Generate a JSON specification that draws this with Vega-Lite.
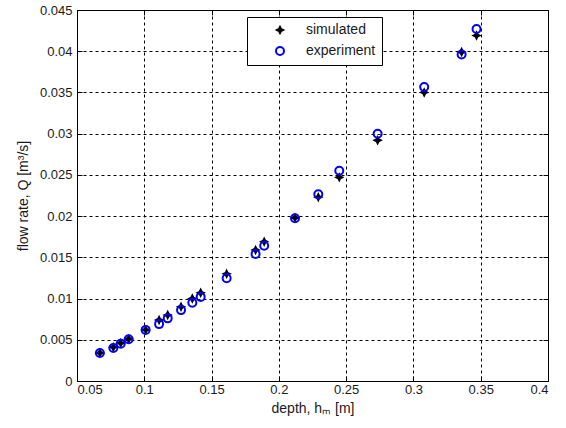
{
  "$schema": "https://vega.github.io/schema/vega-lite/v6.json",
  "autosize": "none",
  "width": 471,
  "height": 371,
  "padding": {"left": 77, "top": 10, "right": 18, "bottom": 47},
  "background": "white",
  "config": {
    "font": "Liberation Sans",
    "view": {"stroke": "black", "strokeWidth": 1},
    "axis": {
      "labelFont": "Liberation Sans",
      "titleFont": "Liberation Sans",
      "labelFontSize": 13,
      "titleFontSize": 14,
      "titleFontWeight": "normal",
      "labelColor": "#1a1a1a",
      "titleColor": "#1a1a1a",
      "domainColor": "black",
      "tickColor": "black",
      "gridColor": "black",
      "gridOpacity": 1,
      "gridDash": [3, 3],
      "gridWidth": 1
    }
  },
  "data": {
    "values": [
      {"depth": 0.067, "Q": 0.0034, "series": "simulated"},
      {"depth": 0.077, "Q": 0.0041, "series": "simulated"},
      {"depth": 0.0825, "Q": 0.0046, "series": "simulated"},
      {"depth": 0.0884, "Q": 0.0051, "series": "simulated"},
      {"depth": 0.101, "Q": 0.0062, "series": "simulated"},
      {"depth": 0.111, "Q": 0.0074, "series": "simulated"},
      {"depth": 0.1174, "Q": 0.0080, "series": "simulated"},
      {"depth": 0.1273, "Q": 0.0090, "series": "simulated"},
      {"depth": 0.1357, "Q": 0.0100, "series": "simulated"},
      {"depth": 0.1419, "Q": 0.0107, "series": "simulated"},
      {"depth": 0.1612, "Q": 0.0130, "series": "simulated"},
      {"depth": 0.1827, "Q": 0.0159, "series": "simulated"},
      {"depth": 0.1891, "Q": 0.0169, "series": "simulated"},
      {"depth": 0.212, "Q": 0.0198, "series": "simulated"},
      {"depth": 0.2293, "Q": 0.0223, "series": "simulated"},
      {"depth": 0.2449, "Q": 0.0247, "series": "simulated"},
      {"depth": 0.2734, "Q": 0.0292, "series": "simulated"},
      {"depth": 0.308, "Q": 0.0350, "series": "simulated"},
      {"depth": 0.3358, "Q": 0.0399, "series": "simulated"},
      {"depth": 0.3469, "Q": 0.0419, "series": "simulated"},
      {"depth": 0.067, "Q": 0.0034, "series": "experiment"},
      {"depth": 0.077, "Q": 0.0040, "series": "experiment"},
      {"depth": 0.0825, "Q": 0.00453, "series": "experiment"},
      {"depth": 0.0884, "Q": 0.00506, "series": "experiment"},
      {"depth": 0.101, "Q": 0.0062, "series": "experiment"},
      {"depth": 0.111, "Q": 0.0069, "series": "experiment"},
      {"depth": 0.1174, "Q": 0.0076, "series": "experiment"},
      {"depth": 0.1273, "Q": 0.0086, "series": "experiment"},
      {"depth": 0.1357, "Q": 0.0095, "series": "experiment"},
      {"depth": 0.1419, "Q": 0.0102, "series": "experiment"},
      {"depth": 0.1612, "Q": 0.01246, "series": "experiment"},
      {"depth": 0.1827, "Q": 0.0154, "series": "experiment"},
      {"depth": 0.1891, "Q": 0.0164, "series": "experiment"},
      {"depth": 0.212, "Q": 0.01975, "series": "experiment"},
      {"depth": 0.2293, "Q": 0.02266, "series": "experiment"},
      {"depth": 0.2449, "Q": 0.0255, "series": "experiment"},
      {"depth": 0.2734, "Q": 0.0300, "series": "experiment"},
      {"depth": 0.308, "Q": 0.03565, "series": "experiment"},
      {"depth": 0.3358, "Q": 0.0396, "series": "experiment"},
      {"depth": 0.3469, "Q": 0.0427, "series": "experiment"}
    ]
  },
  "encoding": {
    "x": {
      "field": "depth", "type": "quantitative",
      "scale": {"domain": [0.05, 0.4], "nice": false, "zero": false}
    },
    "y": {
      "field": "Q", "type": "quantitative",
      "scale": {"domain": [0, 0.045], "nice": false, "zero": false}
    }
  },
  "layer": [
    {
      "mark": {"type": "point", "filled": false, "strokeWidth": 2, "opacity": 1},
      "encoding": {
        "x": {
          "field": "depth", "type": "quantitative",
          "scale": {"domain": [0.05, 0.4], "nice": false, "zero": false},
          "axis": {
            "orient": "bottom",
            "title": "depth, hₘ [m]",
            "values": [0.05, 0.1, 0.15, 0.2, 0.25, 0.3, 0.35, 0.4],
            "format": "~g",
            "tickSize": -5,
            "labelPadding": 7,
            "titlePadding": 5,
            "domain": true,
            "grid": true
          }
        },
        "y": {
          "field": "Q", "type": "quantitative",
          "scale": {"domain": [0, 0.045], "nice": false, "zero": false},
          "axis": {
            "orient": "left",
            "title": "flow rate, Q [m³/s]",
            "values": [0, 0.005, 0.01, 0.015, 0.02, 0.025, 0.03, 0.035, 0.04, 0.045],
            "format": "~g",
            "tickSize": -5,
            "labelPadding": 10,
            "titlePadding": 9,
            "domain": true,
            "grid": true
          }
        },
        "shape": {
          "field": "series", "type": "nominal",
          "scale": {
            "domain": ["simulated", "experiment"],
            "range": ["M0,-0.75L0.25,-0.25L0.75,0L0.25,0.25L0,0.75L-0.25,0.25L-0.75,0L-0.25,-0.25Z", "circle"]
          },
          "legend": {
            "title": null,
            "orient": "none",
            "legendX": 170,
            "legendY": 7,
            "strokeColor": "black",
            "fillColor": "white",
            "padding": 6,
            "symbolOffset": 20,
            "labelOffset": 19,
            "labelFontSize": 14,
            "labelFont": "Liberation Sans",
            "labelColor": "#1a1a1a",
            "rowPadding": 6,
            "symbolSize": 64,
            "symbolStrokeWidth": 2,
            "cornerRadius": 0
          }
        },
        "stroke": {
          "field": "series", "type": "nominal",
          "scale": {"domain": ["simulated", "experiment"], "range": ["#000000", "#0000ff"]},
          "legend": {"title": null}
        },
        "fill": {
          "field": "series", "type": "nominal",
          "scale": {"domain": ["simulated", "experiment"], "range": ["#000000", "transparent"]},
          "legend": {"title": null}
        },
        "size": {"value": 64}
      }
    },
    {
      "mark": {"type": "point", "opacity": 0},
      "encoding": {
        "x": {
          "field": "depth", "type": "quantitative",
          "axis": {
            "orient": "top", "title": null, "labels": false, "grid": false,
            "domain": false, "tickSize": -5,
            "values": [0.05, 0.1, 0.15, 0.2, 0.25, 0.3, 0.35, 0.4]
          }
        },
        "y": {
          "field": "Q", "type": "quantitative",
          "axis": {
            "orient": "right", "title": null, "labels": false, "grid": false,
            "domain": false, "tickSize": -5,
            "values": [0, 0.005, 0.01, 0.015, 0.02, 0.025, 0.03, 0.035, 0.04, 0.045]
          }
        }
      }
    }
  ],
  "resolve": {"axis": {"x": "independent", "y": "independent"}}
}
